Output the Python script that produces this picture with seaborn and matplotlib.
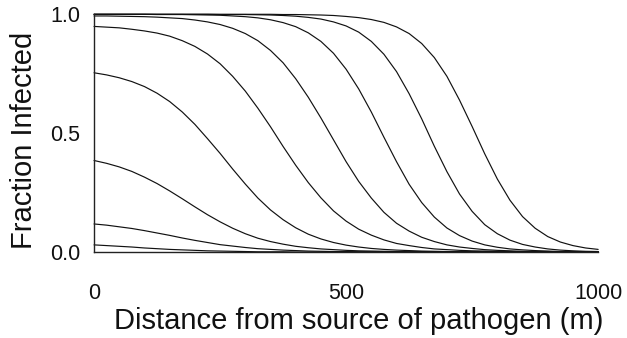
import matplotlib
matplotlib.use("Agg")
import matplotlib.pyplot as plt
import seaborn as sns
import pandas as pd

# Distance from source (m)
distance = [0, 25, 50, 75, 100, 125, 150, 175, 200, 225,
            250, 275, 300, 325, 350, 375, 400, 425, 450, 475,
            500, 525, 550, 575, 600, 625, 650, 675, 700, 725,
            750, 775, 800, 825, 850, 875, 900, 925, 950, 975,
            1000]

# Fraction infected, one curve per time step
curve_1 = [0.030, 0.027, 0.024, 0.021, 0.017, 0.014, 0.011, 0.009, 0.007, 0.005,
           0.004, 0.003, 0.002, 0.001, 0.001, 0.001, 0.000, 0.000, 0.000, 0.000,
           0.000, 0.000, 0.000, 0.000, 0.000, 0.000, 0.000, 0.000, 0.000, 0.000,
           0.000, 0.000, 0.000, 0.000, 0.000, 0.000, 0.000, 0.000, 0.000, 0.000,
           0.000]
curve_2 = [0.118, 0.113, 0.106, 0.099, 0.090, 0.080, 0.070, 0.059, 0.049, 0.040,
           0.031, 0.025, 0.019, 0.014, 0.011, 0.008, 0.006, 0.004, 0.003, 0.002,
           0.002, 0.001, 0.001, 0.001, 0.000, 0.000, 0.000, 0.000, 0.000, 0.000,
           0.000, 0.000, 0.000, 0.000, 0.000, 0.000, 0.000, 0.000, 0.000, 0.000,
           0.000]
curve_3 = [0.385, 0.373, 0.358, 0.339, 0.315, 0.288, 0.257, 0.224, 0.190, 0.157,
           0.127, 0.100, 0.077, 0.058, 0.044, 0.033, 0.024, 0.018, 0.013, 0.010,
           0.007, 0.005, 0.004, 0.003, 0.002, 0.001, 0.001, 0.001, 0.001, 0.000,
           0.000, 0.000, 0.000, 0.000, 0.000, 0.000, 0.000, 0.000, 0.000, 0.000,
           0.000]
curve_4 = [0.754, 0.745, 0.733, 0.717, 0.696, 0.668, 0.633, 0.589, 0.537, 0.477,
           0.415, 0.349, 0.286, 0.227, 0.177, 0.136, 0.102, 0.075, 0.055, 0.040,
           0.029, 0.021, 0.015, 0.011, 0.008, 0.006, 0.004, 0.003, 0.002, 0.001,
           0.001, 0.001, 0.001, 0.000, 0.000, 0.000, 0.000, 0.000, 0.000, 0.000,
           0.000]
curve_5 = [0.949, 0.946, 0.943, 0.937, 0.930, 0.921, 0.908, 0.889, 0.865, 0.833,
           0.792, 0.739, 0.677, 0.605, 0.527, 0.444, 0.365, 0.292, 0.228, 0.173,
           0.130, 0.096, 0.071, 0.051, 0.036, 0.027, 0.019, 0.013, 0.010, 0.007,
           0.005, 0.004, 0.003, 0.002, 0.001, 0.001, 0.001, 0.000, 0.000, 0.000,
           0.000]
curve_6 = [0.993, 0.993, 0.992, 0.991, 0.990, 0.988, 0.985, 0.982, 0.976, 0.968,
           0.957, 0.941, 0.919, 0.889, 0.848, 0.796, 0.729, 0.651, 0.564, 0.472,
           0.380, 0.297, 0.227, 0.167, 0.121, 0.088, 0.062, 0.044, 0.030, 0.021,
           0.015, 0.010, 0.007, 0.005, 0.003, 0.002, 0.002, 0.001, 0.001, 0.001,
           0.000]
curve_7 = [1.000, 1.000, 1.000, 1.000, 1.000, 0.999, 0.999, 0.999, 0.998, 0.997,
           0.996, 0.993, 0.990, 0.985, 0.977, 0.965, 0.948, 0.922, 0.886, 0.836,
           0.769, 0.686, 0.589, 0.483, 0.380, 0.285, 0.208, 0.147, 0.101, 0.069,
           0.046, 0.030, 0.020, 0.013, 0.009, 0.006, 0.004, 0.002, 0.002, 0.001,
           0.001]
curve_8 = [1.000, 1.000, 1.000, 1.000, 1.000, 1.000, 1.000, 1.000, 1.000, 1.000,
           0.999, 0.999, 0.999, 0.998, 0.997, 0.995, 0.992, 0.987, 0.980, 0.968,
           0.951, 0.925, 0.886, 0.832, 0.759, 0.666, 0.560, 0.445, 0.338, 0.244,
           0.171, 0.115, 0.077, 0.050, 0.032, 0.021, 0.013, 0.008, 0.005, 0.003,
           0.002]
curve_9 = [1.000, 1.000, 1.000, 1.000, 1.000, 1.000, 1.000, 1.000, 1.000, 1.000,
           1.000, 1.000, 1.000, 1.000, 1.000, 0.999, 0.999, 0.998, 0.997, 0.995,
           0.991, 0.986, 0.978, 0.966, 0.947, 0.919, 0.877, 0.818, 0.739, 0.639,
           0.528, 0.413, 0.307, 0.218, 0.149, 0.100, 0.065, 0.042, 0.027, 0.017,
           0.011]

curves = [curve_1, curve_2, curve_3, curve_4, curve_5, curve_6, curve_7, curve_8, curve_9]

x_ticks = [0, 500, 1000]
x_tick_labels = ["0", "500", "1000"]
y_ticks = [0.0, 0.5, 1.0]
y_tick_labels = ["0.0", "0.5", "1.0"]

rows = []
for i, c in enumerate(curves):
    for d, v in zip(distance, c):
        rows.append({"distance": d, "fraction": v, "curve": i + 1})
df = pd.DataFrame(rows)

sns.set_style("white")
plt.rcParams["font.family"] = ["Liberation Sans", "DejaVu Sans"]

fig = plt.figure(figsize=(6.27, 3.38), dpi=100)
ax = fig.add_axes([0.150, 0.2544, 0.804, 0.7033])

sns.lineplot(data=df, x="distance", y="fraction", units="curve", estimator=None,
             color="#111111", linewidth=0.85, ax=ax, legend=False, clip_on=False)

ax.set_xlim(0, 1000)
ax.set_ylim(0, 1.0)
ax.set_xticks(x_ticks)
ax.set_xticklabels(x_tick_labels)
ax.set_yticks(y_ticks)
ax.set_yticklabels(y_tick_labels)

for s in ["top", "right"]:
    ax.spines[s].set_visible(False)
for s in ["left", "bottom"]:
    ax.spines[s].set_color("#222222")
    ax.spines[s].set_linewidth(1.0)

ax.tick_params(axis="x", direction="in", length=5, width=0.8, pad=22,
               labelsize=15.5, colors="#111111")
ax.tick_params(axis="y", direction="in", length=5, width=0.8, pad=10,
               labelsize=15.5, colors="#111111")

ax.set_xlabel("Distance from source of pathogen (m)", fontsize=21, color="#111111")
ax.set_ylabel("Fraction Infected", fontsize=21, color="#111111")
ax.xaxis.label.set_va("center")
ax.yaxis.label.set_va("center")
ax.xaxis.set_label_coords(0.524, -0.29)
ax.yaxis.set_label_coords(-0.139, 0.47)

fig.savefig("out.png", dpi=100, facecolor="white")
